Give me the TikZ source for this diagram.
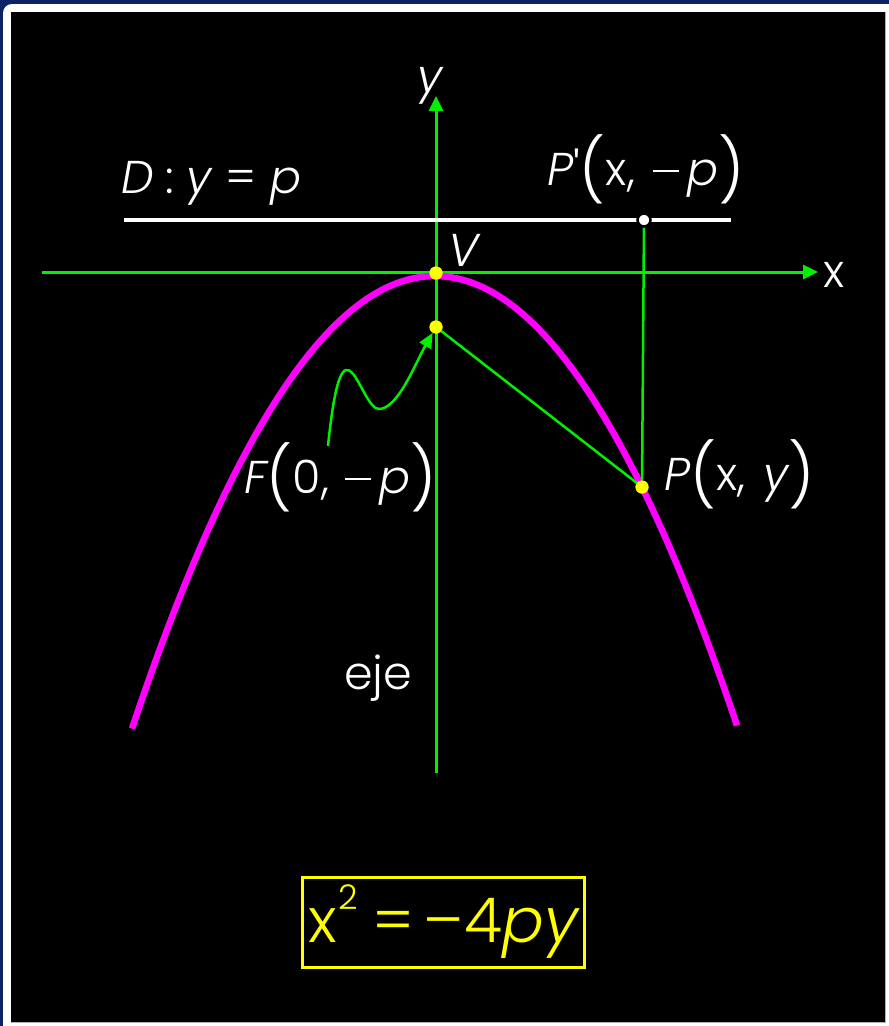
\documentclass[tikz,border=0pt]{standalone}
\usepackage{fontspec}
\setmainfont{Poppins Light}[ItalicFont={Poppins Light Italic}]
\usetikzlibrary{arrows.meta}
\definecolor{navy}{HTML}{0B2364}
\definecolor{grn}{HTML}{00F000}
\definecolor{mag}{HTML}{FF00FF}
\definecolor{yel}{HTML}{FFFF00}
\newcommand{\bp}[1]{\raisebox{-7pt}{\fontsize{62}{62}\selectfont #1}}
\newcommand{\mns}{\raisebox{13pt}{\rule{26pt}{2pt}}}
\tikzset{
  axisline/.style={grn, line width=3pt, -{Triangle[length=15pt,width=14pt]}},
  thinline/.style={grn, line width=2.5pt},
  ydot/.style={circle, fill=yel, inner sep=0pt, minimum size=13pt},
  wdot/.style={circle, fill=white, draw=black, line width=2.5pt, inner sep=0pt, minimum size=13pt},
  lbl/.style={text=white, inner sep=0pt, font=\fontsize{46}{50}\selectfont},
}
\begin{document}
\begin{tikzpicture}[x=1pt,y=-1pt]
\useasboundingbox (0,0) rectangle (889,1026);
% frame
\fill[navy] (0,0) rectangle (889,1026);
\fill[white] (889,1026) -- (3,1026) [rounded corners=9pt] -- (3,4) [sharp corners] -- (889,4) -- cycle;
\fill[black] (11,12) rectangle (885,1022);
\draw[gray!60, line width=1pt] (885.5,12) -- (885.5,1022.5) -- (11,1022.5);
% axes
\coordinate (xs) at (42,272);
\coordinate (xe) at (818,272);
\coordinate (ys) at (436,773);
\coordinate (ye) at (436,96);
\draw[axisline] (xs) -- (xe);
\draw[axisline] (ys) -- (ye);
\node[lbl, anchor=base west] (xl) at (823,287) {x};
\node[lbl, anchor=base west] (yl) at (417,92) {\itshape y};
% parabola
\draw[mag, line width=6.5pt] plot[domain=-303:302, samples=120] ({435+\x},{276+0.4929*(\x/10)*(\x/10)});
% points
\node[ydot] (V) at (436,273) {};
\node[ydot] (F) at (436,327) {};
\node[ydot] (P) at (642,487) {};
\coordinate (Pp) at (644,220);
\draw[thinline] (Pp) -- (P);
\draw[thinline] (F) -- (P);
% directrix
\coordinate (d1) at (124,220);
\coordinate (d2) at (731,220);
\draw[white, line width=4.5pt] (d1) -- (d2);
\node[wdot] (Ppd) at (Pp) {};
\node[ydot] at (V) {};
\node[ydot] at (F) {};
\node[ydot] at (P) {};
% curvy arrow
\coordinate (cs) at (328,446);
\draw[thinline, -{Triangle[length=15pt,width=13pt]}] (cs) .. controls (343,300) and (360,409) .. (379,409) .. controls (398,409) and (416,362) .. (F);
% labels
\node[lbl, anchor=base west] (Dl) at (121,193) {\itshape D\hspace{12pt}\upshape:\hspace{12pt}\itshape y\hspace{14pt}\upshape=\hspace{14pt}\itshape p};
\node[lbl, anchor=base west] (Ppl) at (547,185) {\itshape P\upshape\textquotesingle\bp{(}x,\hspace{18pt}\mns\hspace{8pt}\itshape p\upshape\bp{)}};
\node[lbl, anchor=base west] (Vl) at (448,266) {\itshape V};
\node[lbl, anchor=base west] (Fl) at (244,493) {\itshape F\upshape\bp{(}0,\hspace{16pt}\mns\hspace{8pt}\itshape p\upshape\bp{)}};
\node[lbl, anchor=base west] (Pl) at (664,490) {\itshape P\upshape\bp{(}x,\hspace{18pt}\itshape y\upshape\bp{)}};
\node[lbl, anchor=base west] (eje) at (344,689) {eje};
% formula
\node[draw=yel, line width=3pt, text=yel, minimum width=282pt, minimum height=90pt, inner sep=0pt,
      font=\fontsize{62}{64}\selectfont] (form) at (443,922)
  {x\hspace{2pt}\raisebox{33pt}{\fontsize{34}{34}\selectfont 2}\hspace{14pt}=\hspace{10pt}–4\itshape py};
\end{tikzpicture}
\end{document}
